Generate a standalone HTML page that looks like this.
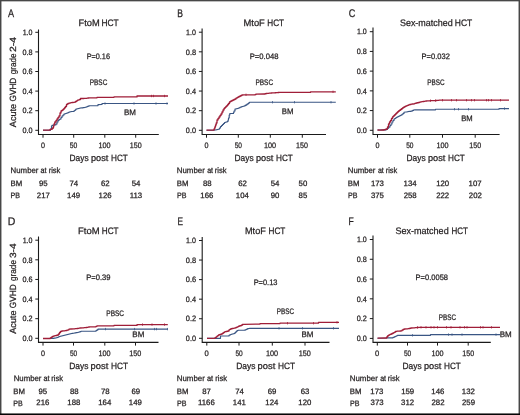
<!DOCTYPE html><html><head><meta charset="utf-8"><style>html,body{margin:0;padding:0;background:#fff;}svg{display:block;will-change:transform;}text{font-family:"Liberation Sans",sans-serif;text-rendering:geometricPrecision;fill:#231f20;stroke:#231f20;stroke-width:0.25px;}</style></head><body>
<svg width="520" height="415" viewBox="0 0 520 415">
<rect x="0" y="0" width="520" height="415" fill="#fff"/>
<path d="M38.5 29.5V134.5H158.8" fill="none" stroke="#1a1a1a" stroke-width="1.1"/>
<path d="M35.30 130.30H38.5" stroke="#1a1a1a" stroke-width="1"/>
<path d="M35.30 110.70H38.5" stroke="#1a1a1a" stroke-width="1"/>
<path d="M35.30 91.10H38.5" stroke="#1a1a1a" stroke-width="1"/>
<path d="M35.30 71.50H38.5" stroke="#1a1a1a" stroke-width="1"/>
<path d="M35.30 51.90H38.5" stroke="#1a1a1a" stroke-width="1"/>
<path d="M35.30 32.30H38.5" stroke="#1a1a1a" stroke-width="1"/>
<path d="M43 134.5V137.70" stroke="#1a1a1a" stroke-width="1"/>
<path d="M73.7 134.5V137.70" stroke="#1a1a1a" stroke-width="1"/>
<path d="M104.8 134.5V137.70" stroke="#1a1a1a" stroke-width="1"/>
<path d="M135.7 134.5V137.70" stroke="#1a1a1a" stroke-width="1"/>
<path d="M202.1 28.5V134.5H326" fill="none" stroke="#1a1a1a" stroke-width="1.1"/>
<path d="M198.90 130.30H202.1" stroke="#1a1a1a" stroke-width="1"/>
<path d="M198.90 110.68H202.1" stroke="#1a1a1a" stroke-width="1"/>
<path d="M198.90 91.06H202.1" stroke="#1a1a1a" stroke-width="1"/>
<path d="M198.90 71.44H202.1" stroke="#1a1a1a" stroke-width="1"/>
<path d="M198.90 51.82H202.1" stroke="#1a1a1a" stroke-width="1"/>
<path d="M198.90 32.20H202.1" stroke="#1a1a1a" stroke-width="1"/>
<path d="M206.5 134.5V137.70" stroke="#1a1a1a" stroke-width="1"/>
<path d="M238.3 134.5V137.70" stroke="#1a1a1a" stroke-width="1"/>
<path d="M270.3 134.5V137.70" stroke="#1a1a1a" stroke-width="1"/>
<path d="M302.3 134.5V137.70" stroke="#1a1a1a" stroke-width="1"/>
<path d="M373.0 27.5V134.5H499.6" fill="none" stroke="#1a1a1a" stroke-width="1.1"/>
<path d="M369.80 130.30H373.0" stroke="#1a1a1a" stroke-width="1"/>
<path d="M369.80 110.58H373.0" stroke="#1a1a1a" stroke-width="1"/>
<path d="M369.80 90.86H373.0" stroke="#1a1a1a" stroke-width="1"/>
<path d="M369.80 71.14H373.0" stroke="#1a1a1a" stroke-width="1"/>
<path d="M369.80 51.42H373.0" stroke="#1a1a1a" stroke-width="1"/>
<path d="M369.80 31.70H373.0" stroke="#1a1a1a" stroke-width="1"/>
<path d="M377.5 134.5V137.70" stroke="#1a1a1a" stroke-width="1"/>
<path d="M409.8 134.5V137.70" stroke="#1a1a1a" stroke-width="1"/>
<path d="M442.5 134.5V137.70" stroke="#1a1a1a" stroke-width="1"/>
<path d="M475.2 134.5V137.70" stroke="#1a1a1a" stroke-width="1"/>
<path d="M38.5 236.5V342.4H158.5" fill="none" stroke="#1a1a1a" stroke-width="1.1"/>
<path d="M35.30 338.30H38.5" stroke="#1a1a1a" stroke-width="1"/>
<path d="M35.30 318.68H38.5" stroke="#1a1a1a" stroke-width="1"/>
<path d="M35.30 299.06H38.5" stroke="#1a1a1a" stroke-width="1"/>
<path d="M35.30 279.44H38.5" stroke="#1a1a1a" stroke-width="1"/>
<path d="M35.30 259.82H38.5" stroke="#1a1a1a" stroke-width="1"/>
<path d="M35.30 240.20H38.5" stroke="#1a1a1a" stroke-width="1"/>
<path d="M43 342.4V345.60" stroke="#1a1a1a" stroke-width="1"/>
<path d="M73.5 342.4V345.60" stroke="#1a1a1a" stroke-width="1"/>
<path d="M104.8 342.4V345.60" stroke="#1a1a1a" stroke-width="1"/>
<path d="M135.5 342.4V345.60" stroke="#1a1a1a" stroke-width="1"/>
<path d="M202.2 237V342.4H329.5" fill="none" stroke="#1a1a1a" stroke-width="1.1"/>
<path d="M199.00 338.30H202.2" stroke="#1a1a1a" stroke-width="1"/>
<path d="M199.00 318.74H202.2" stroke="#1a1a1a" stroke-width="1"/>
<path d="M199.00 299.18H202.2" stroke="#1a1a1a" stroke-width="1"/>
<path d="M199.00 279.62H202.2" stroke="#1a1a1a" stroke-width="1"/>
<path d="M199.00 260.06H202.2" stroke="#1a1a1a" stroke-width="1"/>
<path d="M199.00 240.50H202.2" stroke="#1a1a1a" stroke-width="1"/>
<path d="M206.8 342.4V345.60" stroke="#1a1a1a" stroke-width="1"/>
<path d="M239 342.4V345.60" stroke="#1a1a1a" stroke-width="1"/>
<path d="M272.3 342.4V345.60" stroke="#1a1a1a" stroke-width="1"/>
<path d="M305 342.4V345.60" stroke="#1a1a1a" stroke-width="1"/>
<path d="M373.0 235.5V342.4H490.8" fill="none" stroke="#1a1a1a" stroke-width="1.1"/>
<path d="M369.80 338.40H373.0" stroke="#1a1a1a" stroke-width="1"/>
<path d="M369.80 318.62H373.0" stroke="#1a1a1a" stroke-width="1"/>
<path d="M369.80 298.84H373.0" stroke="#1a1a1a" stroke-width="1"/>
<path d="M369.80 279.06H373.0" stroke="#1a1a1a" stroke-width="1"/>
<path d="M369.80 259.28H373.0" stroke="#1a1a1a" stroke-width="1"/>
<path d="M369.80 239.50H373.0" stroke="#1a1a1a" stroke-width="1"/>
<path d="M377.3 342.4V345.60" stroke="#1a1a1a" stroke-width="1"/>
<path d="M407.5 342.4V345.60" stroke="#1a1a1a" stroke-width="1"/>
<path d="M437.5 342.4V345.60" stroke="#1a1a1a" stroke-width="1"/>
<path d="M468.2 342.4V345.60" stroke="#1a1a1a" stroke-width="1"/>
<path d="M43.00 130.20L50.00 130.20H50.50V129.00H51.50V126.00H52.00V125.30H53.00V125.13H54.00V124.97H55.00V124.80H56.00V124.00H57.00V122.00H58.00V120.50H59.00V119.50H60.00V119.00H61.00V117.50H62.00V116.00H63.00V115.00H64.00V114.00H64.75V113.75H65.50V113.50H66.25V113.25H67.00V113.00H68.00V112.50H69.00V112.00H70.00V111.75H71.00V111.50L73.00 111.50H73.75V111.00H74.50V110.50H75.25V109.75H76.00V109.00H77.00V108.75H78.00V108.50H79.00V108.25H80.00V108.00L82.00 107.80H83.00V107.65H84.00V107.50H85.00V107.25H86.00V107.00H87.00V106.50H88.00V106.15H89.00V105.80L98.00 105.60L98.00 104.60L102.00 104.40L102.00 103.50L168.00 103.50" fill="none" stroke="#3a5684" stroke-width="1.15" stroke-linejoin="round"/>
<path d="M105 102.30V104.70" stroke="#3a5684" stroke-width="0.75"/>
<path d="M134 102.30V104.70" stroke="#3a5684" stroke-width="0.75"/>
<path d="M156 102.30V104.70" stroke="#3a5684" stroke-width="0.75"/>
<path d="M167 102.30V104.70" stroke="#3a5684" stroke-width="0.75"/>
<path d="M43.00 130.20L49.50 130.20H50.00V129.50H50.75V129.25H51.50V129.00H52.50V128.00H53.50V126.00H54.00V124.00H54.80V122.00H56.00V120.50H57.00V119.00H58.00V117.50H59.00V116.00H60.00V113.00H61.00V111.00H61.75V110.50H62.50V110.00H63.25V109.25H64.00V108.50H64.75V107.50H65.50V106.50H66.50V104.50H67.25V104.00H68.00V103.50H69.00V103.15H70.00V102.80H71.00V102.65H72.00V102.50H73.25V102.35H74.50V102.20H75.50V101.50H76.50V100.85H77.50V100.20H78.50V99.85H79.50V99.50H80.50V98.50L83.00 98.50H84.00V98.42H85.00V98.35H86.00V98.28H87.00V98.20H88.00V98.00H89.00V97.80L97.00 97.80L97.00 97.30L114.00 97.30L114.00 96.90L137.00 96.90L137.00 96.00L168.00 96.00" fill="none" stroke="#a01e38" stroke-width="1.3" stroke-linejoin="round"/>
<path d="M151.5 94.80V97.20" stroke="#a01e38" stroke-width="0.75"/>
<path d="M153.5 94.80V97.20" stroke="#a01e38" stroke-width="0.75"/>
<path d="M164.5 94.80V97.20" stroke="#a01e38" stroke-width="0.75"/>
<path d="M206.50 130.20L213.50 130.20L215.00 130.00H216.00V129.75H217.00V129.50H218.00V129.25H219.00V129.00H219.50V128.00H220.50V126.50H221.50V125.50H222.50V124.50H223.50V123.50H224.50V122.50H225.25V122.25H226.00V122.00H227.20V121.50H228.00V120.00H228.50V118.00H229.20V115.00H229.80V113.50L232.50 113.50H233.50V112.50H234.00V111.00H235.00V109.00H236.00V108.70H237.00V108.45H238.00V108.20H239.00V107.70H240.00V107.20H241.00V106.85H242.00V106.50H243.00V106.25H244.00V106.00H245.00V105.40H246.00V104.80H247.00V104.15H248.00V103.50H248.75V102.85H249.50V102.20L335.80 102.20" fill="none" stroke="#3a5684" stroke-width="1.15" stroke-linejoin="round"/>
<path d="M272.5 101.00V103.40" stroke="#3a5684" stroke-width="0.75"/>
<path d="M294.5 101.00V103.40" stroke="#3a5684" stroke-width="0.75"/>
<path d="M331 101.00V103.40" stroke="#3a5684" stroke-width="0.75"/>
<path d="M206.50 130.20L213.50 130.20H214.00V129.00H214.80V127.00H215.50V125.00H216.20V123.00H217.00V120.00H218.00V118.50H219.00V117.00H220.00V115.50H221.00V114.00H222.00V112.00H223.00V110.00H224.00V108.50H224.75V107.75H225.50V107.00H226.25V106.25H227.00V105.50H227.75V104.50H228.50V103.50H229.50V102.00H230.25V101.50H231.00V101.00H232.00V100.50H233.00V100.00H234.00V99.50H235.00V99.00H236.00V98.20H237.00V97.60H238.00V97.00H239.00V96.50H240.00V96.00H241.00V95.50H242.00V95.00L244.00 94.80L254.50 94.80H255.25V94.50H256.00V94.20L264.00 94.00H265.00V93.75H266.00V93.50H267.00V93.40H268.00V93.30H269.00V93.20H270.00V93.10H271.00V93.00H272.00V92.94H273.00V92.88H274.00V92.82H275.00V92.76H276.00V92.70H277.00V92.60H278.00V92.50H279.00V92.40L310.50 92.40L310.50 91.80L335.80 91.80" fill="none" stroke="#a01e38" stroke-width="1.3" stroke-linejoin="round"/>
<path d="M246 93.60V96.00" stroke="#a01e38" stroke-width="0.75"/>
<path d="M333 90.60V93.00" stroke="#a01e38" stroke-width="0.75"/>
<path d="M377.50 130.00L385.00 129.80H386.25V129.15H387.50V128.50H388.25V127.75H389.00V127.00H390.00V125.50H391.00V124.00H392.00V122.00H393.00V120.50H394.00V119.00H394.75V118.50H395.50V118.00H396.25V117.50H397.00V117.00H398.00V116.50H399.00V116.00H400.00V115.50H401.00V115.00H402.00V114.25H403.00V113.50H404.00V112.20L406.00 112.00H407.00V111.75H408.00V111.50L410.00 111.30H411.00V111.05H412.00V110.80H412.75V110.40H413.50V110.00L415.00 109.80L435.50 109.80L435.50 109.20L499.00 109.20L499.00 108.60L509.00 108.60" fill="none" stroke="#3a5684" stroke-width="1.15" stroke-linejoin="round"/>
<path d="M454.5 108.00V110.40" stroke="#3a5684" stroke-width="0.75"/>
<path d="M458.5 108.00V110.40" stroke="#3a5684" stroke-width="0.75"/>
<path d="M468.5 108.00V110.40" stroke="#3a5684" stroke-width="0.75"/>
<path d="M504.5 107.40V109.80" stroke="#3a5684" stroke-width="0.75"/>
<path d="M377.50 130.00L380.00 130.20L383.00 130.00H384.00V129.75H385.00V129.50H385.75V129.25H386.50V129.00H387.50V127.00H388.50V124.00H389.50V122.00H390.50V120.50H391.50V118.50H392.50V117.00H393.25V116.25H394.00V115.50H394.75V114.75H395.50V114.00H396.25V113.25H397.00V112.50H397.75V111.75H398.50V111.00H399.50V110.25H400.50V109.50H401.50V108.75H402.50V108.00H403.25V107.50H404.00V107.00H405.00V106.40H406.00V105.80H407.25V105.30H408.50V104.80H409.75V104.50H411.00V104.20H412.25V104.00H413.50V103.80H414.75V103.40H416.00V103.00H417.25V102.75H418.50V102.50H419.50V102.15H420.50V101.80H421.75V101.65H423.00V101.50H424.00V101.33H425.00V101.17H426.00V101.00H427.00V100.92H428.00V100.85H429.00V100.78H430.00V100.70L435.00 100.60H436.00V100.50H437.00V100.40H438.00V100.30H439.00V100.20L509.00 100.20" fill="none" stroke="#a01e38" stroke-width="1.3" stroke-linejoin="round"/>
<path d="M430.5 99.49V101.89" stroke="#a01e38" stroke-width="0.75"/>
<path d="M435.5 99.35V101.75" stroke="#a01e38" stroke-width="0.75"/>
<path d="M442.5 99.00V101.40" stroke="#a01e38" stroke-width="0.75"/>
<path d="M451.5 99.00V101.40" stroke="#a01e38" stroke-width="0.75"/>
<path d="M456.5 99.00V101.40" stroke="#a01e38" stroke-width="0.75"/>
<path d="M466.5 99.00V101.40" stroke="#a01e38" stroke-width="0.75"/>
<path d="M471.5 99.00V101.40" stroke="#a01e38" stroke-width="0.75"/>
<path d="M474.5 99.00V101.40" stroke="#a01e38" stroke-width="0.75"/>
<path d="M486.5 99.00V101.40" stroke="#a01e38" stroke-width="0.75"/>
<path d="M488.5 99.00V101.40" stroke="#a01e38" stroke-width="0.75"/>
<path d="M491.5 99.00V101.40" stroke="#a01e38" stroke-width="0.75"/>
<path d="M500.5 99.00V101.40" stroke="#a01e38" stroke-width="0.75"/>
<path d="M43.00 338.50L51.00 338.50L53.00 338.30H54.00V338.15H55.00V338.00H56.00V337.75H57.00V337.50H58.00V337.00H59.00V336.50H60.00V336.25H61.00V336.00H62.00V335.75H63.00V335.50H64.00V335.25H65.00V335.00H66.00V334.75H67.00V334.50H68.00V334.25H69.00V334.00H70.00V333.75H71.00V333.50H72.00V333.35H73.00V333.20H74.00V333.00H75.00V332.80H76.00V332.65H77.00V332.50H78.00V332.25H79.00V332.00H80.00V331.60H81.00V331.20L95.00 331.20H96.00V330.50H97.00V329.80H98.00V329.10L167.80 329.10" fill="none" stroke="#3a5684" stroke-width="1.15" stroke-linejoin="round"/>
<path d="M105.5 327.90V330.30" stroke="#3a5684" stroke-width="0.75"/>
<path d="M134.5 327.90V330.30" stroke="#3a5684" stroke-width="0.75"/>
<path d="M154.5 327.90V330.30" stroke="#3a5684" stroke-width="0.75"/>
<path d="M156.5 327.90V330.30" stroke="#3a5684" stroke-width="0.75"/>
<path d="M167.5 327.90V330.30" stroke="#3a5684" stroke-width="0.75"/>
<path d="M43.00 338.50L49.50 338.50H50.25V338.00H51.00V337.50H51.75V337.00H52.50V336.50H53.25V336.15H54.00V335.80H55.00V335.65H56.00V335.50H56.75V335.25H57.50V335.00H58.50V334.00H59.50V332.50H60.50V331.50H61.25V331.25H62.00V331.00L64.00 330.80H65.00V330.65H66.00V330.50H67.00V330.15H68.00V329.80H69.00V329.20L71.00 329.00L74.00 328.80H75.00V328.70H76.00V328.60H77.00V328.50H78.00V328.33H79.00V328.17H80.00V328.00L83.00 327.80H84.00V327.70H85.00V327.60H86.00V327.50H87.00V327.35H88.00V327.20H88.75V327.00H89.50V326.80L95.00 326.80H96.00V326.30H97.00V325.80L114.00 325.80L114.00 325.40L137.00 325.40L137.00 324.60L167.80 324.60" fill="none" stroke="#a01e38" stroke-width="1.3" stroke-linejoin="round"/>
<path d="M142.5 323.40V325.80" stroke="#a01e38" stroke-width="0.75"/>
<path d="M152 323.40V325.80" stroke="#a01e38" stroke-width="0.75"/>
<path d="M164.5 323.40V325.80" stroke="#a01e38" stroke-width="0.75"/>
<path d="M207.00 338.30L220.50 338.30L220.50 336.00L228.00 336.00H229.00V335.20H229.75V334.85H230.50V334.50H231.25V334.25H232.00V334.00H233.00V333.75H234.00V333.50H235.00V332.50H236.00V331.50H237.00V330.50H238.00V330.20L244.00 330.20H245.00V329.80H246.00V329.50H247.00V328.80H247.75V328.65H248.50V328.50L250.00 328.30L339.00 328.30" fill="none" stroke="#3a5684" stroke-width="1.15" stroke-linejoin="round"/>
<path d="M279 327.10V329.50" stroke="#3a5684" stroke-width="0.75"/>
<path d="M302.5 327.10V329.50" stroke="#3a5684" stroke-width="0.75"/>
<path d="M333.5 327.10V329.50" stroke="#3a5684" stroke-width="0.75"/>
<path d="M207.00 338.30L214.00 338.30H214.75V337.90H215.50V337.50H216.25V336.85H217.00V336.20H217.75V335.60H218.50V335.00H219.25V334.75H220.00V334.50H220.75V334.25H221.50V334.00H222.25V333.50H223.00V333.00H223.75V332.40H224.50V331.80H225.25V331.65H226.00V331.50H227.00V331.25H228.00V331.00H229.00V329.80H229.75V329.40H230.50V329.00H231.25V328.75H232.00V328.50H233.00V328.35H234.00V328.20H235.00V327.85H236.00V327.50H236.75V327.15H237.50V326.80H238.25V326.40H239.00V326.00H240.00V325.75H241.00V325.50H241.75V325.00H242.50V324.50L244.00 324.30L260.00 324.10L260.00 323.60L280.00 323.60L280.00 323.20L318.50 323.20L318.50 322.30L339.00 322.30" fill="none" stroke="#a01e38" stroke-width="1.3" stroke-linejoin="round"/>
<path d="M287.5 322.00V324.40" stroke="#a01e38" stroke-width="0.75"/>
<path d="M313.5 322.00V324.40" stroke="#a01e38" stroke-width="0.75"/>
<path d="M337 321.10V323.50" stroke="#a01e38" stroke-width="0.75"/>
<path d="M377.50 338.20L386.00 338.00L388.00 337.80L392.00 337.80H393.00V337.40H394.00V337.00H394.75V336.60H395.50V336.20H396.50V335.75H397.50V335.30L430.50 335.30L430.50 334.60L500.00 334.60" fill="none" stroke="#3a5684" stroke-width="1.15" stroke-linejoin="round"/>
<path d="M412.5 334.10V336.50" stroke="#3a5684" stroke-width="0.75"/>
<path d="M448.5 333.40V335.80" stroke="#3a5684" stroke-width="0.75"/>
<path d="M452 333.40V335.80" stroke="#3a5684" stroke-width="0.75"/>
<path d="M462 333.40V335.80" stroke="#3a5684" stroke-width="0.75"/>
<path d="M496 333.40V335.80" stroke="#3a5684" stroke-width="0.75"/>
<path d="M377.50 338.20L386.00 338.00H386.75V337.00H387.50V336.00H388.25V335.40H389.00V334.80H390.00V334.40H391.00V334.00H392.00V333.50H393.00V333.00H393.75V332.60H394.50V332.20H395.50V331.50H396.25V331.35H397.00V331.20L399.00 331.20H400.00V331.00H401.00V330.80H402.00V330.15H403.00V329.50H403.75V329.25H404.50V329.00L407.00 328.80H408.00V328.65H409.00V328.50H410.00V328.25H411.00V328.00L414.00 327.80H415.00V327.70H416.00V327.60H417.00V327.50L420.00 327.30L500.00 327.30" fill="none" stroke="#a01e38" stroke-width="1.3" stroke-linejoin="round"/>
<path d="M417.5 326.27V328.67" stroke="#a01e38" stroke-width="0.75"/>
<path d="M421 326.10V328.50" stroke="#a01e38" stroke-width="0.75"/>
<path d="M426 326.10V328.50" stroke="#a01e38" stroke-width="0.75"/>
<path d="M431 326.10V328.50" stroke="#a01e38" stroke-width="0.75"/>
<path d="M434 326.10V328.50" stroke="#a01e38" stroke-width="0.75"/>
<path d="M437.5 326.10V328.50" stroke="#a01e38" stroke-width="0.75"/>
<path d="M446.5 326.10V328.50" stroke="#a01e38" stroke-width="0.75"/>
<path d="M451 326.10V328.50" stroke="#a01e38" stroke-width="0.75"/>
<path d="M460 326.10V328.50" stroke="#a01e38" stroke-width="0.75"/>
<path d="M464.5 326.10V328.50" stroke="#a01e38" stroke-width="0.75"/>
<path d="M467 326.10V328.50" stroke="#a01e38" stroke-width="0.75"/>
<path d="M480.5 326.10V328.50" stroke="#a01e38" stroke-width="0.75"/>
<path d="M483 326.10V328.50" stroke="#a01e38" stroke-width="0.75"/>
<path d="M491.5 326.10V328.50" stroke="#a01e38" stroke-width="0.75"/>
<text id="t0" x="7.95" y="17.20" font-size="11.1" textLength="6.10" lengthAdjust="spacingAndGlyphs">A</text>
<text id="t1" x="177.35" y="17.30" font-size="11.1" textLength="5.70" lengthAdjust="spacingAndGlyphs">B</text>
<text id="t2" x="348.65" y="17.40" font-size="11.1" textLength="6.60" lengthAdjust="spacingAndGlyphs">C</text>
<text id="t3" x="7.65" y="225.00" font-size="11.1" textLength="7.60" lengthAdjust="spacingAndGlyphs">D</text>
<text id="t4" x="177.40" y="225.10" font-size="11.1" textLength="5.55" lengthAdjust="spacingAndGlyphs">E</text>
<text id="t5" x="348.40" y="225.00" font-size="11.1" textLength="5.25" lengthAdjust="spacingAndGlyphs">F</text>
<text id="t6" x="78.50" y="26.00" font-size="9.4" textLength="21.15" lengthAdjust="spacingAndGlyphs">FtoM</text>
<text id="t7" x="101.50" y="26.00" font-size="9.4" textLength="17.25" lengthAdjust="spacingAndGlyphs">HCT</text>
<text id="t8" x="243.50" y="26.00" font-size="9.4" textLength="21.30" lengthAdjust="spacingAndGlyphs">MtoF</text>
<text id="t9" x="267.30" y="26.00" font-size="9.4" textLength="16.80" lengthAdjust="spacingAndGlyphs">HCT</text>
<text id="t10" x="399.95" y="26.00" font-size="9.4" textLength="52.75" lengthAdjust="spacingAndGlyphs">Sex-matched</text>
<text id="t11" x="454.85" y="26.00" font-size="9.4" textLength="17.40" lengthAdjust="spacingAndGlyphs">HCT</text>
<text id="t12" x="78.05" y="234.00" font-size="9.4" textLength="21.60" lengthAdjust="spacingAndGlyphs">FtoM</text>
<text id="t13" x="101.80" y="234.00" font-size="9.4" textLength="16.80" lengthAdjust="spacingAndGlyphs">HCT</text>
<text id="t14" x="245.00" y="234.00" font-size="9.4" textLength="20.80" lengthAdjust="spacingAndGlyphs">MtoF</text>
<text id="t15" x="268.50" y="234.00" font-size="9.4" textLength="16.85" lengthAdjust="spacingAndGlyphs">HCT</text>
<text id="t16" x="395.55" y="234.00" font-size="9.4" textLength="53.10" lengthAdjust="spacingAndGlyphs">Sex-matched</text>
<text id="t17" x="451.50" y="234.00" font-size="9.4" textLength="16.50" lengthAdjust="spacingAndGlyphs">HCT</text>
<text id="t18" x="86.65" y="59.40" font-size="7.9" textLength="23.35" lengthAdjust="spacingAndGlyphs">P=0.16</text>
<text id="t19" x="249.70" y="59.40" font-size="7.9" textLength="28.75" lengthAdjust="spacingAndGlyphs">P=0.048</text>
<text id="t20" x="421.60" y="59.40" font-size="7.9" textLength="28.30" lengthAdjust="spacingAndGlyphs">P=0.032</text>
<text id="t21" x="86.30" y="280.00" font-size="7.9" textLength="24.25" lengthAdjust="spacingAndGlyphs">P=0.39</text>
<text id="t22" x="253.65" y="284.60" font-size="7.9" textLength="23.80" lengthAdjust="spacingAndGlyphs">P=0.13</text>
<text id="t23" x="415.60" y="280.40" font-size="7.9" textLength="32.45" lengthAdjust="spacingAndGlyphs">P=0.0058</text>
<text id="t24" x="89.75" y="84.60" font-size="8.0" textLength="17.55" lengthAdjust="spacingAndGlyphs">PBSC</text>
<text id="t25" x="255.45" y="84.80" font-size="8.0" textLength="17.65" lengthAdjust="spacingAndGlyphs">PBSC</text>
<text id="t26" x="427.30" y="84.80" font-size="8.0" textLength="17.30" lengthAdjust="spacingAndGlyphs">PBSC</text>
<text id="t27" x="106.30" y="315.50" font-size="8.0" textLength="17.80" lengthAdjust="spacingAndGlyphs">PBSC</text>
<text id="t28" x="276.75" y="314.30" font-size="8.0" textLength="17.25" lengthAdjust="spacingAndGlyphs">PBSC</text>
<text id="t29" x="438.75" y="319.80" font-size="8.0" textLength="17.20" lengthAdjust="spacingAndGlyphs">PBSC</text>
<text id="t30" x="124.00" y="115.00" font-size="7.95" textLength="12.00" lengthAdjust="spacingAndGlyphs">BM</text>
<text id="t31" x="281.70" y="114.20" font-size="7.95" textLength="11.70" lengthAdjust="spacingAndGlyphs">BM</text>
<text id="t32" x="461.20" y="121.00" font-size="7.95" textLength="11.50" lengthAdjust="spacingAndGlyphs">BM</text>
<text id="t33" x="132.30" y="337.20" font-size="7.95" textLength="12.00" lengthAdjust="spacingAndGlyphs">BM</text>
<text id="t34" x="301.50" y="336.80" font-size="7.95" textLength="12.00" lengthAdjust="spacingAndGlyphs">BM</text>
<text id="t35" x="499.70" y="336.80" font-size="7.95" textLength="12.00" lengthAdjust="spacingAndGlyphs">BM</text>
<text id="t36" x="69.50" y="160.60" font-size="9.1" textLength="19.10" lengthAdjust="spacingAndGlyphs">Days</text>
<text id="t37" x="90.95" y="160.60" font-size="9.1" textLength="17.45" lengthAdjust="spacingAndGlyphs">post</text>
<text id="t38" x="111.00" y="160.60" font-size="9.1" textLength="16.85" lengthAdjust="spacingAndGlyphs">HCT</text>
<text id="t39" x="234.50" y="160.60" font-size="9.1" textLength="19.10" lengthAdjust="spacingAndGlyphs">Days</text>
<text id="t40" x="255.95" y="160.60" font-size="9.1" textLength="17.45" lengthAdjust="spacingAndGlyphs">post</text>
<text id="t41" x="276.00" y="160.60" font-size="9.1" textLength="16.85" lengthAdjust="spacingAndGlyphs">HCT</text>
<text id="t42" x="406.50" y="160.60" font-size="9.1" textLength="19.10" lengthAdjust="spacingAndGlyphs">Days</text>
<text id="t43" x="427.95" y="160.60" font-size="9.1" textLength="17.45" lengthAdjust="spacingAndGlyphs">post</text>
<text id="t44" x="448.00" y="160.60" font-size="9.1" textLength="16.85" lengthAdjust="spacingAndGlyphs">HCT</text>
<text id="t45" x="69.25" y="368.60" font-size="9.1" textLength="19.17" lengthAdjust="spacingAndGlyphs">Days</text>
<text id="t46" x="90.55" y="368.60" font-size="9.1" textLength="17.75" lengthAdjust="spacingAndGlyphs">post</text>
<text id="t47" x="110.93" y="368.60" font-size="9.1" textLength="17.13" lengthAdjust="spacingAndGlyphs">HCT</text>
<text id="t48" x="236.25" y="368.60" font-size="9.1" textLength="19.17" lengthAdjust="spacingAndGlyphs">Days</text>
<text id="t49" x="257.55" y="368.60" font-size="9.1" textLength="17.75" lengthAdjust="spacingAndGlyphs">post</text>
<text id="t50" x="277.93" y="368.60" font-size="9.1" textLength="17.13" lengthAdjust="spacingAndGlyphs">HCT</text>
<text id="t51" x="402.50" y="368.60" font-size="9.1" textLength="19.10" lengthAdjust="spacingAndGlyphs">Days</text>
<text id="t52" x="423.95" y="368.60" font-size="9.1" textLength="17.45" lengthAdjust="spacingAndGlyphs">post</text>
<text id="t53" x="444.00" y="368.60" font-size="9.1" textLength="16.85" lengthAdjust="spacingAndGlyphs">HCT</text>
<text id="t54" x="10.60" y="173.30" font-size="8.0" textLength="27.85" lengthAdjust="spacingAndGlyphs">Number</text>
<text id="t55" x="40.55" y="173.30" font-size="8.0" textLength="6.00" lengthAdjust="spacingAndGlyphs">at</text>
<text id="t56" x="48.65" y="173.30" font-size="8.0" textLength="11.75" lengthAdjust="spacingAndGlyphs">risk</text>
<text id="t57" x="10.50" y="186.00" font-size="7.75" textLength="11.70" lengthAdjust="spacingAndGlyphs">BM</text>
<text id="t58" x="10.50" y="197.70" font-size="7.75" textLength="9.45" lengthAdjust="spacingAndGlyphs">PB</text>
<text id="t59" x="176.80" y="173.30" font-size="8.0" textLength="28.02" lengthAdjust="spacingAndGlyphs">Number</text>
<text id="t60" x="207.18" y="173.30" font-size="8.0" textLength="5.90" lengthAdjust="spacingAndGlyphs">at</text>
<text id="t61" x="214.83" y="173.30" font-size="8.0" textLength="11.78" lengthAdjust="spacingAndGlyphs">risk</text>
<text id="t62" x="176.70" y="186.00" font-size="7.75" textLength="11.70" lengthAdjust="spacingAndGlyphs">BM</text>
<text id="t63" x="176.95" y="197.70" font-size="7.75" textLength="9.45" lengthAdjust="spacingAndGlyphs">PB</text>
<text id="t64" x="347.80" y="173.30" font-size="8.0" textLength="27.66" lengthAdjust="spacingAndGlyphs">Number</text>
<text id="t65" x="377.88" y="173.30" font-size="8.0" textLength="5.90" lengthAdjust="spacingAndGlyphs">at</text>
<text id="t66" x="385.70" y="173.30" font-size="8.0" textLength="11.56" lengthAdjust="spacingAndGlyphs">risk</text>
<text id="t67" x="347.70" y="186.00" font-size="7.75" textLength="11.70" lengthAdjust="spacingAndGlyphs">BM</text>
<text id="t68" x="347.95" y="197.70" font-size="7.75" textLength="9.45" lengthAdjust="spacingAndGlyphs">PB</text>
<text id="t69" x="13.65" y="381.20" font-size="8.0" textLength="27.79" lengthAdjust="spacingAndGlyphs">Number</text>
<text id="t70" x="43.47" y="381.20" font-size="8.0" textLength="6.10" lengthAdjust="spacingAndGlyphs">at</text>
<text id="t71" x="51.35" y="381.20" font-size="8.0" textLength="11.69" lengthAdjust="spacingAndGlyphs">risk</text>
<text id="t72" x="13.30" y="393.90" font-size="7.75" textLength="11.70" lengthAdjust="spacingAndGlyphs">BM</text>
<text id="t73" x="13.30" y="405.60" font-size="7.75" textLength="9.45" lengthAdjust="spacingAndGlyphs">PB</text>
<text id="t74" x="176.80" y="381.20" font-size="8.0" textLength="27.99" lengthAdjust="spacingAndGlyphs">Number</text>
<text id="t75" x="206.99" y="381.20" font-size="8.0" textLength="6.19" lengthAdjust="spacingAndGlyphs">at</text>
<text id="t76" x="215.16" y="381.20" font-size="8.0" textLength="11.87" lengthAdjust="spacingAndGlyphs">risk</text>
<text id="t77" x="176.70" y="393.90" font-size="7.75" textLength="11.70" lengthAdjust="spacingAndGlyphs">BM</text>
<text id="t78" x="176.95" y="405.60" font-size="7.75" textLength="9.45" lengthAdjust="spacingAndGlyphs">PB</text>
<text id="t79" x="349.80" y="381.20" font-size="8.0" textLength="28.02" lengthAdjust="spacingAndGlyphs">Number</text>
<text id="t80" x="380.18" y="381.20" font-size="8.0" textLength="5.90" lengthAdjust="spacingAndGlyphs">at</text>
<text id="t81" x="387.83" y="381.20" font-size="8.0" textLength="11.78" lengthAdjust="spacingAndGlyphs">risk</text>
<text id="t82" x="349.70" y="393.90" font-size="7.75" textLength="11.70" lengthAdjust="spacingAndGlyphs">BM</text>
<text id="t83" x="349.95" y="405.60" font-size="7.75" textLength="9.45" lengthAdjust="spacingAndGlyphs">PB</text>
<text id="t84" x="43.27" y="186.10" font-size="7.8" text-anchor="middle">95</text>
<text id="t85" x="73.77" y="186.10" font-size="7.8" text-anchor="middle">74</text>
<text id="t86" x="105.27" y="186.10" font-size="7.8" text-anchor="middle">62</text>
<text id="t87" x="135.99" y="186.10" font-size="7.8" text-anchor="middle">54</text>
<text id="t88" x="43.31" y="197.80" font-size="7.8" text-anchor="middle">217</text>
<text id="t89" x="73.56" y="197.80" font-size="7.8" text-anchor="middle">149</text>
<text id="t90" x="105.06" y="197.80" font-size="7.8" text-anchor="middle">126</text>
<text id="t91" x="135.87" y="197.80" font-size="7.8" text-anchor="middle">113</text>
<text id="t92" x="207.22" y="185.80" font-size="7.8" text-anchor="middle">88</text>
<text id="t93" x="242.57" y="185.80" font-size="7.8" text-anchor="middle">62</text>
<text id="t94" x="275.10" y="185.80" font-size="7.8" text-anchor="middle">54</text>
<text id="t95" x="302.90" y="185.80" font-size="7.8" text-anchor="middle">50</text>
<text id="t96" x="206.88" y="197.50" font-size="7.8" text-anchor="middle">166</text>
<text id="t97" x="242.35" y="197.50" font-size="7.8" text-anchor="middle">104</text>
<text id="t98" x="274.97" y="197.50" font-size="7.8" text-anchor="middle">90</text>
<text id="t99" x="302.90" y="197.50" font-size="7.8" text-anchor="middle">85</text>
<text id="t100" x="377.40" y="185.80" font-size="7.8" text-anchor="middle">173</text>
<text id="t101" x="410.08" y="185.80" font-size="7.8" text-anchor="middle">134</text>
<text id="t102" x="442.70" y="185.80" font-size="7.8" text-anchor="middle">120</text>
<text id="t103" x="475.06" y="185.80" font-size="7.8" text-anchor="middle">107</text>
<text id="t104" x="377.40" y="197.50" font-size="7.8" text-anchor="middle">375</text>
<text id="t105" x="410.20" y="197.50" font-size="7.8" text-anchor="middle">258</text>
<text id="t106" x="442.70" y="197.50" font-size="7.8" text-anchor="middle">222</text>
<text id="t107" x="475.31" y="197.50" font-size="7.8" text-anchor="middle">202</text>
<text id="t108" x="42.77" y="393.60" font-size="7.8" text-anchor="middle">95</text>
<text id="t109" x="74.22" y="393.60" font-size="7.8" text-anchor="middle">88</text>
<text id="t110" x="105.22" y="393.60" font-size="7.8" text-anchor="middle">78</text>
<text id="t111" x="135.72" y="393.60" font-size="7.8" text-anchor="middle">69</text>
<text id="t112" x="42.81" y="405.30" font-size="7.8" text-anchor="middle">216</text>
<text id="t113" x="73.88" y="405.30" font-size="7.8" text-anchor="middle">188</text>
<text id="t114" x="104.75" y="405.30" font-size="7.8" text-anchor="middle">164</text>
<text id="t115" x="135.38" y="405.30" font-size="7.8" text-anchor="middle">149</text>
<text id="t116" x="206.57" y="393.60" font-size="7.8" text-anchor="middle">87</text>
<text id="t117" x="239.57" y="393.60" font-size="7.8" text-anchor="middle">74</text>
<text id="t118" x="272.07" y="393.60" font-size="7.8" text-anchor="middle">69</text>
<text id="t119" x="305.07" y="393.60" font-size="7.8" text-anchor="middle">63</text>
<text id="t120" x="206.36" y="405.30" font-size="7.8" text-anchor="middle">1166</text>
<text id="t121" x="239.35" y="405.30" font-size="7.8" text-anchor="middle">141</text>
<text id="t122" x="271.85" y="405.30" font-size="7.8" text-anchor="middle">124</text>
<text id="t123" x="304.85" y="405.30" font-size="7.8" text-anchor="middle">120</text>
<text id="t124" x="376.88" y="393.60" font-size="7.8" text-anchor="middle">173</text>
<text id="t125" x="407.70" y="393.60" font-size="7.8" text-anchor="middle">159</text>
<text id="t126" x="437.88" y="393.60" font-size="7.8" text-anchor="middle">146</text>
<text id="t127" x="468.35" y="393.60" font-size="7.8" text-anchor="middle">132</text>
<text id="t128" x="377.13" y="405.30" font-size="7.8" text-anchor="middle">373</text>
<text id="t129" x="407.58" y="405.30" font-size="7.8" text-anchor="middle">312</text>
<text id="t130" x="438.00" y="405.30" font-size="7.8" text-anchor="middle">282</text>
<text id="t131" x="468.48" y="405.30" font-size="7.8" text-anchor="middle">259</text>
<text id="t132" x="22.40" y="133.05" font-size="7.8" textLength="10.10" lengthAdjust="spacingAndGlyphs">0.0</text>
<text id="t133" x="22.40" y="113.45" font-size="7.8" textLength="10.10" lengthAdjust="spacingAndGlyphs">0.2</text>
<text id="t134" x="22.40" y="93.85" font-size="7.8" textLength="10.10" lengthAdjust="spacingAndGlyphs">0.4</text>
<text id="t135" x="22.40" y="74.25" font-size="7.8" textLength="10.10" lengthAdjust="spacingAndGlyphs">0.6</text>
<text id="t136" x="22.40" y="54.65" font-size="7.8" textLength="10.10" lengthAdjust="spacingAndGlyphs">0.8</text>
<text id="t137" x="22.65" y="35.05" font-size="7.8" textLength="9.85" lengthAdjust="spacingAndGlyphs">1.0</text>
<text id="t138" x="41.00" y="147.70" font-size="7.9" textLength="4.00" lengthAdjust="spacingAndGlyphs">0</text>
<text id="t139" x="69.85" y="147.70" font-size="7.9" textLength="7.55" lengthAdjust="spacingAndGlyphs">50</text>
<text id="t140" x="98.50" y="147.70" font-size="7.9" textLength="12.15" lengthAdjust="spacingAndGlyphs">100</text>
<text id="t141" x="129.75" y="147.70" font-size="7.9" textLength="11.85" lengthAdjust="spacingAndGlyphs">150</text>
<text id="t142" x="185.85" y="133.05" font-size="7.8" textLength="10.10" lengthAdjust="spacingAndGlyphs">0.0</text>
<text id="t143" x="185.85" y="113.43" font-size="7.8" textLength="10.35" lengthAdjust="spacingAndGlyphs">0.2</text>
<text id="t144" x="185.85" y="93.81" font-size="7.8" textLength="10.10" lengthAdjust="spacingAndGlyphs">0.4</text>
<text id="t145" x="185.85" y="74.19" font-size="7.8" textLength="10.35" lengthAdjust="spacingAndGlyphs">0.6</text>
<text id="t146" x="185.85" y="54.57" font-size="7.8" textLength="10.35" lengthAdjust="spacingAndGlyphs">0.8</text>
<text id="t147" x="186.10" y="34.95" font-size="7.8" textLength="9.85" lengthAdjust="spacingAndGlyphs">1.0</text>
<text id="t148" x="204.50" y="147.70" font-size="7.9" textLength="4.00" lengthAdjust="spacingAndGlyphs">0</text>
<text id="t149" x="234.70" y="147.70" font-size="7.9" textLength="7.30" lengthAdjust="spacingAndGlyphs">50</text>
<text id="t150" x="264.00" y="147.70" font-size="7.9" textLength="12.15" lengthAdjust="spacingAndGlyphs">100</text>
<text id="t151" x="296.10" y="147.70" font-size="7.9" textLength="11.85" lengthAdjust="spacingAndGlyphs">150</text>
<text id="t152" x="356.70" y="133.05" font-size="7.8" textLength="10.10" lengthAdjust="spacingAndGlyphs">0.0</text>
<text id="t153" x="356.70" y="113.33" font-size="7.8" textLength="10.10" lengthAdjust="spacingAndGlyphs">0.2</text>
<text id="t154" x="356.70" y="93.61" font-size="7.8" textLength="10.10" lengthAdjust="spacingAndGlyphs">0.4</text>
<text id="t155" x="356.70" y="73.89" font-size="7.8" textLength="10.10" lengthAdjust="spacingAndGlyphs">0.6</text>
<text id="t156" x="356.70" y="54.17" font-size="7.8" textLength="10.10" lengthAdjust="spacingAndGlyphs">0.8</text>
<text id="t157" x="356.95" y="34.45" font-size="7.8" textLength="9.85" lengthAdjust="spacingAndGlyphs">1.0</text>
<text id="t158" x="375.50" y="147.70" font-size="7.9" textLength="4.00" lengthAdjust="spacingAndGlyphs">0</text>
<text id="t159" x="406.20" y="147.70" font-size="7.9" textLength="7.30" lengthAdjust="spacingAndGlyphs">50</text>
<text id="t160" x="436.45" y="147.70" font-size="7.9" textLength="12.15" lengthAdjust="spacingAndGlyphs">100</text>
<text id="t161" x="469.25" y="147.70" font-size="7.9" textLength="11.85" lengthAdjust="spacingAndGlyphs">150</text>
<text id="t162" x="22.40" y="341.05" font-size="7.8" textLength="10.10" lengthAdjust="spacingAndGlyphs">0.0</text>
<text id="t163" x="22.40" y="321.43" font-size="7.8" textLength="10.10" lengthAdjust="spacingAndGlyphs">0.2</text>
<text id="t164" x="22.40" y="301.81" font-size="7.8" textLength="10.10" lengthAdjust="spacingAndGlyphs">0.4</text>
<text id="t165" x="22.40" y="282.19" font-size="7.8" textLength="10.10" lengthAdjust="spacingAndGlyphs">0.6</text>
<text id="t166" x="22.40" y="262.57" font-size="7.8" textLength="10.10" lengthAdjust="spacingAndGlyphs">0.8</text>
<text id="t167" x="22.65" y="242.95" font-size="7.8" textLength="9.85" lengthAdjust="spacingAndGlyphs">1.0</text>
<text id="t168" x="41.00" y="355.60" font-size="7.9" textLength="4.00" lengthAdjust="spacingAndGlyphs">0</text>
<text id="t169" x="69.90" y="355.60" font-size="7.9" textLength="7.30" lengthAdjust="spacingAndGlyphs">50</text>
<text id="t170" x="98.50" y="355.60" font-size="7.9" textLength="12.15" lengthAdjust="spacingAndGlyphs">100</text>
<text id="t171" x="129.30" y="355.60" font-size="7.9" textLength="12.10" lengthAdjust="spacingAndGlyphs">150</text>
<text id="t172" x="185.85" y="341.05" font-size="7.8" textLength="10.10" lengthAdjust="spacingAndGlyphs">0.0</text>
<text id="t173" x="185.85" y="321.49" font-size="7.8" textLength="10.35" lengthAdjust="spacingAndGlyphs">0.2</text>
<text id="t174" x="185.85" y="301.93" font-size="7.8" textLength="10.10" lengthAdjust="spacingAndGlyphs">0.4</text>
<text id="t175" x="185.85" y="282.37" font-size="7.8" textLength="10.35" lengthAdjust="spacingAndGlyphs">0.6</text>
<text id="t176" x="185.85" y="262.81" font-size="7.8" textLength="10.35" lengthAdjust="spacingAndGlyphs">0.8</text>
<text id="t177" x="186.10" y="243.25" font-size="7.8" textLength="9.85" lengthAdjust="spacingAndGlyphs">1.0</text>
<text id="t178" x="204.55" y="355.60" font-size="7.9" textLength="4.25" lengthAdjust="spacingAndGlyphs">0</text>
<text id="t179" x="235.40" y="355.60" font-size="7.9" textLength="7.30" lengthAdjust="spacingAndGlyphs">50</text>
<text id="t180" x="266.00" y="355.60" font-size="7.9" textLength="12.15" lengthAdjust="spacingAndGlyphs">100</text>
<text id="t181" x="298.80" y="355.60" font-size="7.9" textLength="12.10" lengthAdjust="spacingAndGlyphs">150</text>
<text id="t182" x="356.70" y="341.15" font-size="7.8" textLength="10.10" lengthAdjust="spacingAndGlyphs">0.0</text>
<text id="t183" x="356.70" y="321.37" font-size="7.8" textLength="10.10" lengthAdjust="spacingAndGlyphs">0.2</text>
<text id="t184" x="356.70" y="301.59" font-size="7.8" textLength="10.10" lengthAdjust="spacingAndGlyphs">0.4</text>
<text id="t185" x="356.70" y="281.81" font-size="7.8" textLength="10.10" lengthAdjust="spacingAndGlyphs">0.6</text>
<text id="t186" x="356.70" y="262.03" font-size="7.8" textLength="10.10" lengthAdjust="spacingAndGlyphs">0.8</text>
<text id="t187" x="356.95" y="242.25" font-size="7.8" textLength="9.85" lengthAdjust="spacingAndGlyphs">1.0</text>
<text id="t188" x="375.05" y="355.60" font-size="7.9" textLength="4.25" lengthAdjust="spacingAndGlyphs">0</text>
<text id="t189" x="403.90" y="355.60" font-size="7.9" textLength="7.30" lengthAdjust="spacingAndGlyphs">50</text>
<text id="t190" x="431.45" y="355.60" font-size="7.9" textLength="12.15" lengthAdjust="spacingAndGlyphs">100</text>
<text id="t191" x="462.25" y="355.60" font-size="7.9" textLength="11.85" lengthAdjust="spacingAndGlyphs">150</text>
<text id="y0" transform="translate(15.7 127.15) rotate(-90)" x="0" y="0" font-size="9.0" textLength="23.30" lengthAdjust="spacingAndGlyphs">Acute</text>
<text id="y1" transform="translate(15.7 101.49) rotate(-90)" x="0" y="0" font-size="9.0" textLength="23.80" lengthAdjust="spacingAndGlyphs">GVHD</text>
<text id="y2" transform="translate(15.7 74.25) rotate(-90)" x="0" y="0" font-size="9.0" textLength="20.90" lengthAdjust="spacingAndGlyphs">grade</text>
<text id="y3" transform="translate(15.7 51.90) rotate(-90)" x="0" y="0" font-size="9.0" textLength="15.00" lengthAdjust="spacingAndGlyphs">2-4</text>
<text id="y4" transform="translate(15.7 333.85) rotate(-90)" x="0" y="0" font-size="9.0" textLength="23.30" lengthAdjust="spacingAndGlyphs">Acute</text>
<text id="y5" transform="translate(15.7 308.20) rotate(-90)" x="0" y="0" font-size="9.0" textLength="23.80" lengthAdjust="spacingAndGlyphs">GVHD</text>
<text id="y6" transform="translate(15.7 280.95) rotate(-90)" x="0" y="0" font-size="9.0" textLength="20.90" lengthAdjust="spacingAndGlyphs">grade</text>
<text id="y7" transform="translate(15.7 258.10) rotate(-90)" x="0" y="0" font-size="9.0" textLength="14.75" lengthAdjust="spacingAndGlyphs">3-4</text>
<rect x="0" y="0" width="520" height="1.35" fill="#474747"/>
<rect x="0" y="0" width="1.45" height="415" fill="#474747"/>
<rect x="518.55" y="0" width="1.45" height="415" fill="#474747"/>
<rect x="0" y="413.45" width="520" height="1.55" fill="#050505"/>
</svg></body></html>
